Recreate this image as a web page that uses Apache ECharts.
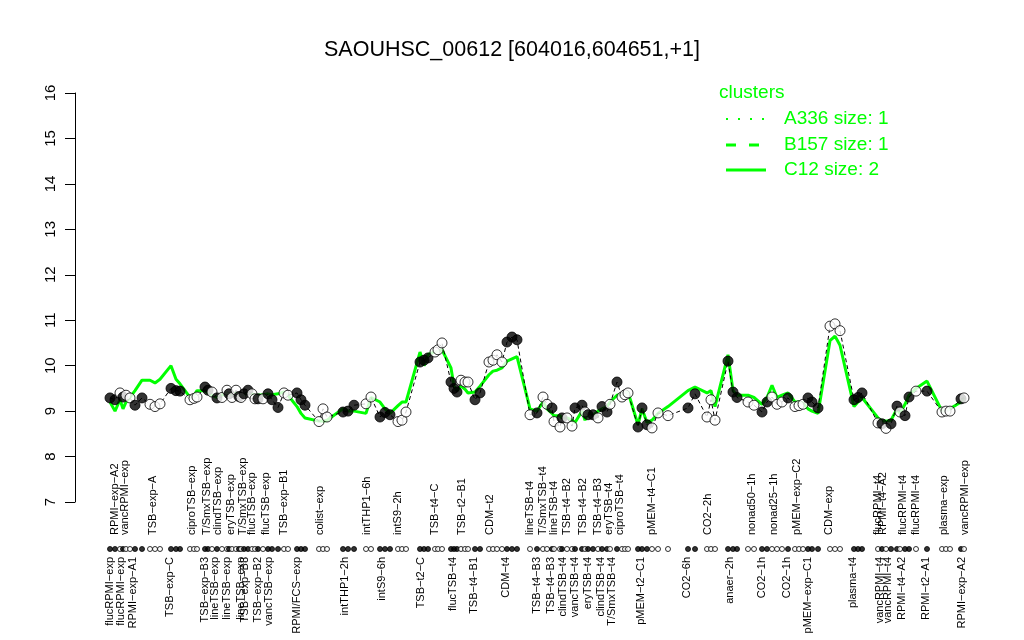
<!DOCTYPE html>
<html><head><meta charset="utf-8">
<script src="https://cdn.jsdelivr.net/npm/echarts@6/dist/echarts.min.js"></script>
<style>html,body{margin:0;padding:0;background:#fff}#c{width:1024px;height:640px}</style>
</head><body><div id="c"></div>
<script>
const yTicks = [7,8,9,10,11,12,13,14,15,16];
const pointPos = [22,23,24,24.6,25.2,26,27,28.4,30,31,32,34.2,35.2,36,38,38.8,39.4,41,41.6,42.4,43.4,44.4,45.4,45.8,46.4,47.2,47.8,48.2,48.8,49.6,50.4,51,51.6,52.6,53.6,54.4,55.6,56.8,57.6,59.4,60.2,61,63.8,64.6,65.4,68.6,69.6,70.8,73.2,74.2,76,77,78,79.6,80.4,81.2,84,84.8,85.6,87,87.6,88.4,90.2,90.8,91.4,92.2,93,93.6,95,96,97.8,98.6,99.4,100.4,101.4,102.4,103.4,106,107.4,108.6,109.4,110.4,110.8,112,112.4,113.4,114.4,115,116.4,117,117.6,118.6,119.6,120.4,121.4,122,123.4,124.4,125,125.6,127.6,128.4,129.4,130.4,131.6,133.6,137.6,139,141.4,142.2,143,145.6,146.6,147.4,149.6,150.8,152.4,153.4,154.4,155.4,156.4,157.6,159,159.8,160.6,161.6,162.4,163.6,166,167,168,170.8,171.6,172.4,175.6,176.4,177.2,178.2,179.4,180,181,181.8,183.2,185.4,188.4,189.2,190,192.2,192.8];
const pointVal = [9.29,9.25,9.40,9.31,9.35,9.29,9.13,9.29,9.15,9.10,9.16,9.50,9.45,9.44,9.25,9.28,9.31,9.53,9.46,9.42,9.29,9.30,9.46,9.38,9.30,9.46,9.32,9.30,9.38,9.46,9.38,9.27,9.27,9.27,9.38,9.25,9.08,9.40,9.35,9.40,9.25,9.13,8.77,9.05,8.87,8.98,9.00,9.13,9.16,9.31,8.87,8.97,8.92,8.77,8.80,8.98,10.08,10.12,10.17,10.30,10.35,10.50,9.64,9.50,9.42,9.68,9.64,9.64,9.25,9.40,10.08,10.12,10.24,10.08,10.52,10.63,10.57,8.92,8.96,9.31,9.15,9.07,8.77,8.65,8.85,8.85,8.67,9.07,9.13,8.98,8.92,8.92,8.85,9.10,8.98,9.15,9.64,9.31,9.36,9.40,8.65,9.07,8.70,8.63,8.96,8.90,9.07,9.38,8.87,9.25,8.80,10.10,9.42,9.30,9.20,9.13,8.98,9.20,9.31,9.15,9.20,9.29,9.10,9.12,9.15,9.29,9.20,9.07,10.87,10.92,10.77,9.25,9.30,9.40,8.74,8.72,8.62,8.72,9.11,8.98,8.90,9.31,9.44,9.44,8.98,9.00,9.00,9.27,9.29];
const pointFill = [1,1,0,1,0,0,1,1,0,0,0,1,1,1,0,0,0,1,1,0,1,0,0,1,0,0,1,0,1,1,0,0,1,0,1,1,1,0,0,1,1,1,0,0,0,1,1,1,0,0,1,1,1,0,0,0,1,1,1,0,0,0,1,1,1,0,0,0,1,1,0,0,0,0,1,1,1,0,1,0,0,1,0,0,1,0,0,1,1,0,1,1,0,1,1,0,1,0,0,0,1,1,1,0,0,0,1,1,0,0,0,1,1,1,0,0,1,1,0,0,0,1,0,0,0,1,1,1,0,0,0,1,1,1,0,1,0,1,1,0,1,1,0,1,0,0,0,1,0];
const clusterVal = [9.20,9.00,9.25,9.05,9.20,9.30,9.45,9.68,9.68,9.62,9.70,10.00,9.70,9.60,9.30,9.35,9.45,9.45,9.40,9.35,9.30,9.35,9.40,9.38,9.35,9.40,9.35,9.33,9.36,9.40,9.38,9.35,9.35,9.36,9.38,9.36,9.38,9.42,9.35,9.10,8.95,8.85,8.78,8.78,8.80,9.05,9.00,9.00,8.95,9.30,9.20,9.05,8.95,9.12,9.20,9.20,10.30,10.00,10.25,10.30,10.32,10.35,9.95,9.55,9.45,9.55,9.48,9.40,9.42,9.55,9.80,9.88,9.90,9.95,10.10,10.15,10.20,9.05,9.00,9.20,9.05,8.95,8.90,8.90,8.85,8.85,8.80,8.75,9.00,8.80,9.00,8.90,9.00,9.05,9.10,9.20,9.35,9.38,9.40,9.42,8.70,9.05,8.75,8.80,8.95,9.10,9.45,9.53,9.40,9.45,9.10,10.24,9.45,9.35,9.35,9.30,9.15,9.30,9.57,9.30,9.35,9.40,9.20,9.20,9.18,9.05,9.00,8.95,10.55,10.65,10.45,9.10,9.20,9.30,8.85,8.78,8.78,8.80,9.05,8.95,9.15,9.35,9.50,9.66,9.00,9.00,9.05,9.20,9.30];
const topLabels = ['RPMI\u2212exp\u2212A2','vancRPMI\u2212exp','TSB\u2212exp\u2212A','ciproTSB\u2212exp','T/SmxTSB\u2212exp','clindTSB\u2212exp','eryTSB\u2212exp','T/SmxTSB\u2212exp','flucTSB\u2212exp','flucTSB\u2212exp','TSB\u2212exp\u2212B1','colist\u2212exp','intTHP1\u22126h','intS9\u22122h','TSB\u2212t4\u2212C','TSB\u2212t2\u2212B1','CDM\u2212t2','lineTSB\u2212t4','T/SmxTSB\u2212t4','lineTSB\u2212t4','TSB\u2212t4\u2212B2','TSB\u2212t4\u2212B2','TSB\u2212t4\u2212B3','eryTSB\u2212t4','ciproTSB\u2212t4','pMEM\u2212t4\u2212C1','CO2\u22122h','nonad50\u22121h','nonad25\u22121h','pMEM\u2212exp\u2212C2','CDM\u2212exp','flucRPMI\u2212t4','RPMI\u2212t4\u2212A2','flucRPMI\u2212t4','flucRPMI\u2212t4','plasma\u2212exp','vancRPMI\u2212exp'];
const topLabelPos = [23,25,30.6,38.4,41.4,43.6,46.2,48.6,50.4,53.2,56.8,64,73.4,79.6,87,92.4,98,106,108.6,110.8,113.4,116.6,119.6,121.8,124,130.4,141.6,150.4,154.8,159.4,165.8,175.6,176.6,180.6,183.2,188.8,193];
const bottomLabels = ['flucRPMI\u2212exp','flucRPMI\u2212exp','RPMI\u2212exp\u2212A1','TSB\u2212exp\u2212C','TSB\u2212exp\u2212B3','lineTSB\u2212exp','lineTSB\u2212exp','lineTSB\u2212exp','TSB\u2212exp\u2212B3','TSB\u2212exp\u2212B2','vancTSB\u2212exp','RPMI/FCS\u2212exp','intTHP1\u22122h','intS9\u22126h','TSB\u2212t2\u2212C','flucTSB\u2212t4','TSB\u2212t4\u2212B1','CDM\u2212t4','TSB\u2212t4\u2212B3','TSB\u2212t4\u2212B3','clindTSB\u2212t4','vancTSB\u2212t4','eryTSB\u2212t4','clindTSB\u2212t4','T/SmxTSB\u2212t4','pMEM\u2212t2\u2212C1','CO2\u22126h','anaer\u22122h','CO2\u22121h','CO2\u22121h','pMEM\u2212exp\u2212C1','plasma\u2212t4','vancRPMI\u2212t4','vancRPMI\u2212t4','RPMI\u2212t4\u2212A2','RPMI\u2212t2\u2212A1','RPMI\u2212exp\u2212A2'];
const bottomLabelPos = [22,24.2,26.6,34,41,43,45.4,48.2,49,51.6,53.8,59.4,69,76.4,84.2,90.6,94.8,101.2,107.4,110.2,112.6,115,117.6,120.2,122.4,128.2,137.4,146,152.4,157.4,161.6,170.6,176,177.6,180.4,185.2,192.4];
const legendTitle = 'clusters';
const legendNames = ['A336 size: 1','B157 size: 1','C12 size: 2'];

const FONT = '"Liberation Sans", Arial, Helvetica, sans-serif';
const GREEN = '#00ff00';
const X_MIN = 15, X_MAX = 200;

// Empty guard labels at the axis ends keep ECharts from dropping the first/last real label.
const topTicks = [X_MIN].concat(topLabelPos, [X_MAX]);
const bottomTicks = [X_MIN].concat(bottomLabelPos, [X_MAX]);

function lookup(pos, names){
  return function(v){
    for (let i=0;i<pos.length;i++){ if (Math.abs(pos[i]-v) < 1e-6) return names[i]; }
    return '';
  };
}

const pts = pointPos.map((p,i)=>({value:[p,pointVal[i]], itemStyle:{color: pointFill[i]? '#000':'#fff'}}));
const strip = pointPos.map((p,i)=>({value:[p,0.5], itemStyle:{color: pointFill[i]? '#000':'#fff'}}));
const clusterLine = pointPos.map((p,i)=>[p, clusterVal[i]]);
const geneLine = pointPos.map((p,i)=>[p, pointVal[i]]);

const legendDash = [[2,10],[10,13],null];
const legendWidth = [2,3,3];
const legendRowY = [119,145,170];
const graphics = [
  {type:'text', left:719, top:83, style:{text:legendTitle, fill:GREEN, font:'19px '+FONT}}
];
legendNames.forEach((n,i)=>{
  graphics.push({type:'line', shape:{x1:726,y1:legendRowY[i],x2:766,y2:legendRowY[i]},
    style:{stroke:GREEN, lineWidth:legendWidth[i], lineDash:legendDash[i]}});
  graphics.push({type:'text', x:784, y:legendRowY[i],
    style:{text:n, fill:GREEN, font:'19px '+FONT, textVerticalAlign:'middle', verticalAlign:'middle'}});
});

const labelCommon = {show:true, rotate:90, fontSize:11, color:'#000', fontFamily:FONT,
  showMinLabel:true, showMaxLabel:true, hideOverlap:false};

const chart = echarts.init(document.getElementById('c'), null, {renderer:'canvas'});
chart.setOption({
  animation:false,
  backgroundColor:'#fff',
  textStyle:{fontFamily:FONT},
  title:[
    {text:'SAOUHSC_00612 [604016,604651,+1]', left:'center', top:34,
     textStyle:{fontFamily:FONT, fontSize:21.5, fontWeight:'normal', color:'#000'}}
  ],
  graphic: graphics,
  grid:[
    {left:75, right:24, top:93, height:409, containLabel:false},
    {left:75, right:24, top:544, height:10, containLabel:false}
  ],
  xAxis:[
    {type:'value', gridIndex:0, min:X_MIN, max:X_MAX, show:false},
    {type:'value', gridIndex:1, min:X_MIN, max:X_MAX, position:'top',
     axisLine:{show:false}, axisTick:{show:false}, splitLine:{show:false},
     axisLabel:Object.assign({}, labelCommon, {margin:9,
       customValues: topTicks, formatter: lookup(topLabelPos, topLabels)})},
    {type:'value', gridIndex:1, min:X_MIN, max:X_MAX, position:'bottom',
     axisLine:{show:false}, axisTick:{show:false}, splitLine:{show:false},
     axisLabel:Object.assign({}, labelCommon, {margin:3,
       customValues: bottomTicks, formatter: lookup(bottomLabelPos, bottomLabels)})}
  ],
  yAxis:[
    {type:'value', gridIndex:0, min:7, max:16, interval:1,
     axisLine:{show:true, lineStyle:{color:'#000', width:1}},
     axisTick:{show:true, length:10, lineStyle:{color:'#000'}},
     splitLine:{show:false},
     axisLabel:{show:true, rotate:90, margin:17, fontSize:15, color:'#000', fontFamily:FONT,
       showMinLabel:true, showMaxLabel:true, customValues: yTicks}},
    {type:'value', gridIndex:1, min:0, max:1, show:false}
  ],
  series:[
    {name:legendNames[2], type:'line', data:clusterLine, xAxisIndex:0, yAxisIndex:0, symbol:'none',
     lineStyle:{color:GREEN, width:3}, z:2, silent:true},
    {name:'gene', type:'line', data:geneLine, xAxisIndex:0, yAxisIndex:0, symbol:'none',
     lineStyle:{color:'#000', width:1, type:[4,3]}, z:3, silent:true},
    {name:'points', type:'scatter', data:pts, xAxisIndex:0, yAxisIndex:0, symbol:'circle', symbolSize:10,
     itemStyle:{borderColor:'#000', borderWidth:1}, z:4, silent:true},
    {name:'strip', type:'scatter', data:strip, xAxisIndex:1, yAxisIndex:1, symbol:'circle', symbolSize:5,
     itemStyle:{borderColor:'#000', borderWidth:1}, z:4, silent:true}
  ]
});
</script>
</body></html>
